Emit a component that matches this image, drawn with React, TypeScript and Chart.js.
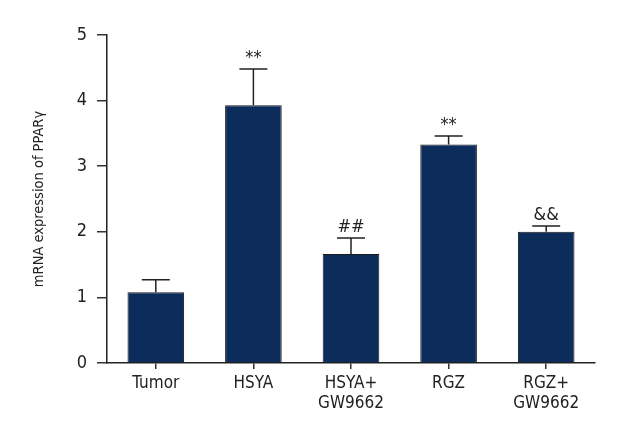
import React, { useEffect, useRef } from "react";
import { Chart, registerables } from "chart.js";

Chart.register(...registerables);

const categories: (string | string[])[] = ["Tumor", "HSYA", ["HSYA+", "GW9662"], "RGZ", ["RGZ+", "GW9662"]];
const means = [1.08, 3.93, 1.66, 3.33, 2.0];
const errors = [0.19, 0.55, 0.245, 0.13, 0.09];
const marks = ["", "**", "##", "**", "&&"];
const yTicks = [0, 1, 2, 3, 4, 5];

const FONT = "'Liberation Sans Narrow', 'DejaVu Sans Condensed', 'Roboto Condensed', sans-serif";

const errorBarPlugin = {
  id: "errorBars",
  afterDatasetsDraw(chart: any) {
    const ctx = chart.ctx;
    const meta = chart.getDatasetMeta(0);
    const y = chart.scales.y;
    ctx.save();
    ctx.strokeStyle = "#222";
    ctx.lineWidth = 1.5;
    meta.data.forEach((bar: any, i: number) => {
      const x = bar.x;
      const top = y.getPixelForValue(means[i]);
      const end = y.getPixelForValue(means[i] + errors[i]);
      ctx.beginPath();
      ctx.moveTo(x, top);
      ctx.lineTo(x, end);
      ctx.moveTo(x - 14, end);
      ctx.lineTo(x + 14, end);
      ctx.stroke();
      if (marks[i]) {
        ctx.fillStyle = "#222";
        ctx.font = `18px ${FONT}`;
        ctx.textAlign = "center";
        ctx.textBaseline = "bottom";
        ctx.fillText(marks[i], x, end - 2);
      }
    });
    ctx.restore();
  },
};

export default function App() {
  const ref = useRef<HTMLCanvasElement>(null);
  useEffect(() => {
    if (!ref.current) return;
    const chart = new Chart(ref.current, {
      type: "bar",
      data: {
        labels: categories,
        datasets: [
          {
            data: means,
            backgroundColor: "#0c2d5b",
            borderColor: "#1a1a1a",
            borderWidth: 1,
            barPercentage: 0.58,
            categoryPercentage: 1,
          },
        ],
      },
      plugins: [errorBarPlugin],
      options: {
        animation: false,
        responsive: false,
        maintainAspectRatio: false,
        layout: { padding: { top: 35, right: 45, left: 0, bottom: 0 } },
        plugins: { legend: { display: false }, tooltip: { enabled: false } },
        scales: {
          x: {
            grid: { display: true, offset: false, drawOnChartArea: false, drawTicks: true, tickLength: 6, color: "#333", lineWidth: 1.5 },
            border: { display: true, color: "#222", width: 1.5 },
            ticks: { color: "#222", font: { family: FONT, size: 17 }, padding: 4, maxRotation: 0 },
            afterFit(scale: any) {
              scale.height = 77;
            },
          },
          y: {
            min: 0,
            max: 5,
            afterBuildTicks(scale: any) {
              scale.ticks = yTicks.map((v) => ({ value: v }));
            },
            grid: { display: true, drawOnChartArea: false, drawTicks: true, tickLength: 10, color: "#333", lineWidth: 1.5 },
            border: { display: true, color: "#222", width: 1.5 },
            ticks: { color: "#222", font: { family: FONT, size: 18 }, padding: 10 },
            title: {
              display: true,
              text: "mRNA expression of PPARγ",
              color: "#222",
              font: { family: FONT, size: 14.5 },
              padding: { top: 31, bottom: 0 },
            },
            afterFit(scale: any) {
              scale.width = 107;
            },
          },
        },
      },
    });
    return () => chart.destroy();
  }, []);
  return (
    <div style={{ position: "fixed", left: 0, top: 0, width: 640, height: 440, background: "#fff" }}>
      <canvas ref={ref} width={640} height={440} />
    </div>
  );
}
